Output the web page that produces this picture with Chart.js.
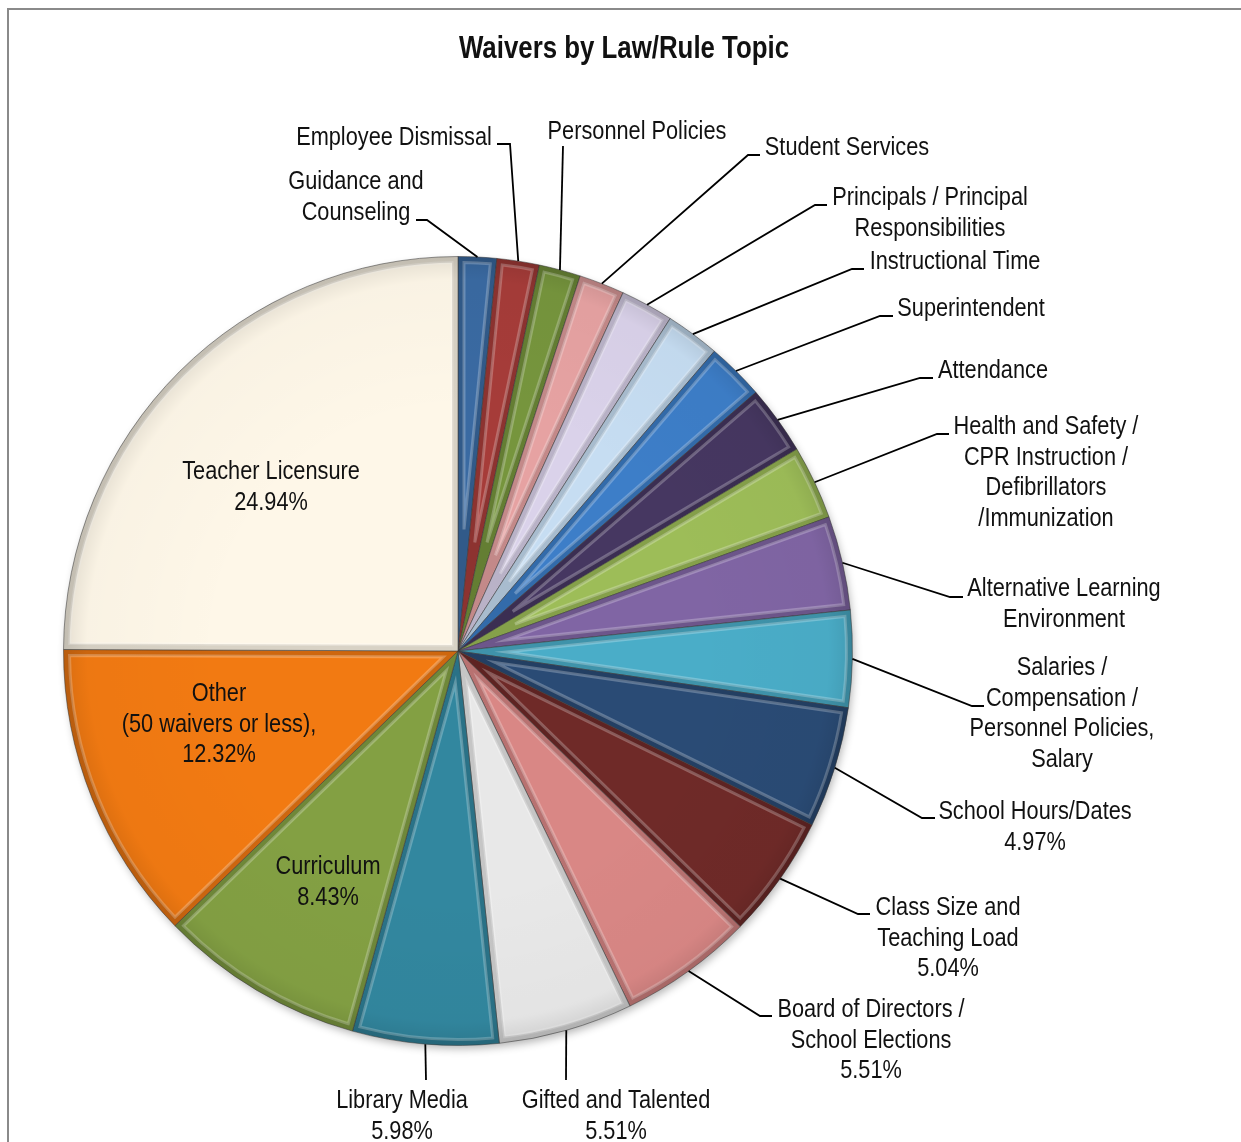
<!DOCTYPE html>
<html>
<head>
<meta charset="utf-8">
<title>Waivers by Law/Rule Topic</title>
<script src="https://cdn.jsdelivr.net/npm/chart.js@4.4.1/dist/chart.umd.min.js"></script>
<style>
  html, body { margin: 0; padding: 0; background: #fff; }
  #wrap { width: 1241px; height: 1142px; }
</style>
</head>
<body>
<div id="wrap"><canvas id="waivers" width="1241" height="1142"></canvas></div>
<script>
// topics, clockwise from 12 o'clock
const topics = [
  'Guidance and\nCounseling',
  'Employee Dismissal',
  'Personnel Policies',
  'Student Services',
  'Principals / Principal\nResponsibilities',
  'Instructional Time',
  'Superintendent',
  'Attendance',
  'Health and Safety /\nCPR Instruction /\nDefibrillators\n/Immunization',
  'Alternative Learning\nEnvironment',
  'Salaries /\nCompensation /\nPersonnel Policies,\nSalary',
  'School Hours/Dates',
  'Class Size and\nTeaching Load',
  'Board of Directors /\nSchool Elections',
  'Gifted and Talented',
  'Library Media',
  'Curriculum',
  'Other\n(50 waivers or less),',
  'Teacher Licensure',
];

// share of all waivers, percent
const shares = [1.57, 1.74, 1.70, 1.86, 2.17, 2.22, 2.36, 2.83, 3.03, 3.86, 3.96,
                4.97, 5.04, 5.51, 5.51, 5.98, 8.43, 12.32, 24.94];

// which labels carry the percentage
const showPct = [false, false, false, false, false, false, false, false, false, false, false,
                 true, true, true, true, true, true, true, true];

const sliceColors = [
  '#3a6aa2', '#a63c39', '#76953d', '#e6a2a2', '#dad2ea', '#c6ddf2', '#3d7ec8',
  '#463761', '#9dbd58', '#8065a4', '#4aadc8', '#2a4b75', '#6f2a28', '#d98785',
  '#e8e8e8', '#32879f', '#83a043', '#f27a12', '#fef7e8',
];

// label placement: first-line centre, leader elbow + tail (null = inside label)
const LINE_H = 30.5;
const labelPos = [
  { x: 356, y: 180, lead: [[427, 220], [416, 220]] },
  { x: 394, y: 136, lead: [[510, 144], [497, 144]] },
  { x: 637, y: 130, lead: [[563, 146]] },
  { x: 847, y: 146, lead: [[748, 155], [760, 155]] },
  { x: 930, y: 196, lead: [[815, 205], [827, 205]] },
  { x: 955, y: 260, lead: [[852, 269], [864, 269]] },
  { x: 971, y: 307, lead: [[880, 316], [893, 316]] },
  { x: 993, y: 369, lead: [[920, 378], [933, 378]] },
  { x: 1046, y: 425, lead: [[937, 434], [949, 434]] },
  { x: 1064, y: 587, lead: [[950, 597], [963, 597]] },
  { x: 1062, y: 666, lead: [[972, 706], [984, 706]] },
  { x: 1035, y: 810, lead: [[922, 818], [935, 818]] },
  { x: 948, y: 906, lead: [[858, 914], [870, 914]] },
  { x: 871, y: 1008, lead: [[760, 1016], [772, 1016]] },
  { x: 616, y: 1099, lead: [[566, 1080]] },
  { x: 402, y: 1099, lead: [[426, 1080]] },
  { x: 328, y: 865, lead: null },
  { x: 219, y: 692, lead: null },
  { x: 271, y: 470, lead: null },
];

// Liberation Sans squeezed to narrow proportions
const FONT = "'Liberation Sans', Arial, sans-serif";
const SQUEEZE = 0.82;
const TEXT_DY = 2;

function narrowText(ctx, t, x, y) {
  ctx.save();
  ctx.translate(x, y + TEXT_DY);
  ctx.scale(SQUEEZE, 1);
  ctx.fillText(t, 0, 0);
  ctx.restore();
}

function labelLines(i) {
  const lines = topics[i].split('\n');
  if (showPct[i]) lines.push(shares[i].toFixed(2) + '%');
  return lines;
}

// frame + title behind the pie
const framePlugin = {
  id: 'frame',
  beforeDraw(chart) {
    const ctx = chart.ctx;
    ctx.save();
    ctx.fillStyle = '#fff';
    ctx.fillRect(0, 0, chart.width, chart.height);
    ctx.strokeStyle = '#8a8a8a';
    ctx.lineWidth = 2;
    ctx.beginPath();
    ctx.moveTo(8, chart.height);
    ctx.lineTo(8, 9);
    ctx.lineTo(chart.width, 9);
    ctx.stroke();
    ctx.fillStyle = '#111';
    ctx.font = 'bold 31.5px ' + FONT;
    ctx.textAlign = 'center';
    ctx.textBaseline = 'middle';
    narrowText(ctx, 'Waivers by Law/Rule Topic', 624, 47);
    ctx.restore();
  },
};

// inset path of a slice, used for the bevel highlight
function insetPath(ctx, a, d) {
  const { x, y, startAngle, endAngle, outerRadius } = a;
  const half = (endAngle - startAngle) / 2;
  const mid = startAngle + half;
  const shift = Math.min(d / Math.sin(Math.max(half, 0.001)), outerRadius * 0.6);
  const r = outerRadius - d;
  const da = Math.min(d / r, half * 0.9);
  ctx.beginPath();
  ctx.moveTo(x + Math.cos(mid) * shift, y + Math.sin(mid) * shift);
  ctx.arc(x, y, r, startAngle + da, endAngle - da);
  ctx.closePath();
}

const bevelPlugin = {
  id: 'bevel',
  beforeDatasetsDraw(chart) {
    const a = chart.getDatasetMeta(0).data[0];
    if (!a) return;
    const ctx = chart.ctx;
    ctx.save();
    ctx.shadowColor = 'rgba(0,0,0,0.3)';
    ctx.shadowBlur = 9;
    ctx.shadowOffsetX = 2;
    ctx.shadowOffsetY = 4;
    ctx.fillStyle = '#fff';
    ctx.beginPath();
    ctx.arc(a.x, a.y, a.outerRadius - 1, 0, Math.PI * 2);
    ctx.fill();
    ctx.restore();
  },
  afterDatasetsDraw(chart) {
    const ctx = chart.ctx;
    chart.getDatasetMeta(0).data.forEach((a) => {
      const { x, y, startAngle, endAngle, outerRadius } = a;
      ctx.save();
      ctx.beginPath();
      ctx.moveTo(x, y);
      ctx.arc(x, y, outerRadius, startAngle, endAngle);
      ctx.closePath();
      ctx.clip();
      // darker rim and edges
      ctx.lineWidth = 12;
      ctx.strokeStyle = 'rgba(0,0,0,0.15)';
      ctx.stroke();
      // soft light ridge just inside the edges
      insetPath(ctx, a, 6);
      ctx.lineWidth = 3;
      ctx.strokeStyle = 'rgba(255,255,255,0.25)';
      ctx.stroke();
      // slight darkening toward the rim
      const g = ctx.createRadialGradient(x, y, outerRadius * 0.6, x, y, outerRadius);
      g.addColorStop(0, 'rgba(0,0,0,0)');
      g.addColorStop(0.85, 'rgba(0,0,0,0.02)');
      g.addColorStop(1, 'rgba(0,0,0,0.10)');
      ctx.fillStyle = g;
      ctx.fillRect(x - outerRadius, y - outerRadius, outerRadius * 2, outerRadius * 2);
      ctx.restore();
    });
  },
};

// labels with leader lines running from the slice rim
const labelPlugin = {
  id: 'sliceLabels',
  afterDraw(chart) {
    const ctx = chart.ctx;
    const arcs = chart.getDatasetMeta(0).data;
    ctx.save();
    ctx.font = '26.5px ' + FONT;
    ctx.fillStyle = '#111';
    ctx.textAlign = 'center';
    ctx.textBaseline = 'middle';
    ctx.strokeStyle = '#000';
    ctx.lineWidth = 1.8;
    arcs.forEach((a, i) => {
      const pos = labelPos[i];
      if (pos.lead) {
        const mid = (a.startAngle + a.endAngle) / 2;
        ctx.beginPath();
        ctx.moveTo(a.x + Math.cos(mid) * a.outerRadius, a.y + Math.sin(mid) * a.outerRadius);
        pos.lead.forEach(([px, py]) => ctx.lineTo(px, py));
        ctx.stroke();
      }
      labelLines(i).forEach((t, k) => narrowText(ctx, t, pos.x, pos.y + k * LINE_H));
    });
    ctx.restore();
  },
};

new Chart(document.getElementById('waivers'), {
  type: 'pie',
  data: {
    labels: topics.map(t => t.replace(/\n/g, ' ')),
    datasets: [{
      data: shares,
      backgroundColor: sliceColors,
      borderColor: 'rgba(70,70,70,0.55)',
      borderWidth: 1,
    }],
  },
  options: {
    responsive: false,
    animation: false,
    layout: { padding: { left: 63, top: 256, right: 388, bottom: 96 } },
    plugins: {
      legend: { display: false },
      tooltip: { enabled: false },
      title: { display: false },
    },
  },
  plugins: [framePlugin, bevelPlugin, labelPlugin],
});
</script>
</body>
</html>
